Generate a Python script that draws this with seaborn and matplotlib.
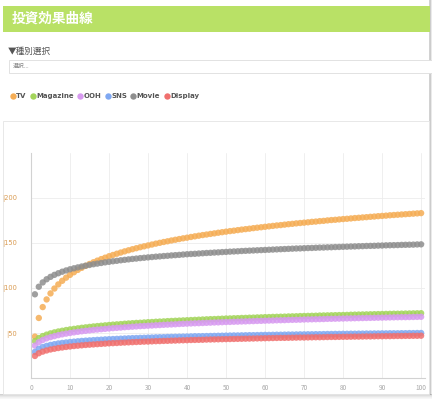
import matplotlib
matplotlib.use("Agg")
import matplotlib.pyplot as plt
from matplotlib.patches import Rectangle
from matplotlib.lines import Line2D
import pandas as pd
import seaborn as sns

# ---- data -------------------------------------------------------------
spend = list(range(1, 101))

tv = [
    46.0, 66.7, 78.8, 87.3, 94.0, 99.4, 104.0, 108.0, 111.5, 114.6,
    117.5, 120.1, 122.4, 124.6, 126.7, 128.6, 130.4, 132.1, 133.7, 135.3,
    136.7, 138.1, 139.4, 140.7, 141.9, 143.1, 144.2, 145.3, 146.3, 147.3,
    148.3, 149.3, 150.2, 151.1, 151.9, 152.8, 153.6, 154.4, 155.2, 155.9,
    156.7, 157.4, 158.1, 158.8, 159.4, 160.1, 160.7, 161.4, 162.0, 162.6,
    163.2, 163.7, 164.3, 164.9, 165.4, 165.9, 166.5, 167.0, 167.5, 168.0,
    168.5, 169.0, 169.5, 169.9, 170.4, 170.9, 171.3, 171.8, 172.2, 172.6,
    173.0, 173.5, 173.8, 174.3, 174.6, 175.1, 175.5, 175.8, 176.2, 176.6,
    176.9, 177.3, 177.7, 178.0, 178.4, 178.7, 179.1, 179.4, 179.8, 180.1,
    180.4, 180.8, 181.1, 181.4, 181.7, 182.0, 182.3, 182.6, 182.9, 183.2,
]
magazine = [
    41.0, 44.4, 46.6, 48.2, 49.6, 50.7, 51.7, 52.5, 53.3, 54.0,
    54.6, 55.2, 55.8, 56.3, 56.8, 57.3, 57.7, 58.1, 58.5, 58.9,
    59.3, 59.6, 59.9, 60.3, 60.6, 60.9, 61.2, 61.4, 61.7, 62.0,
    62.2, 62.5, 62.7, 62.9, 63.2, 63.4, 63.6, 63.8, 64.0, 64.2,
    64.4, 64.6, 64.8, 65.0, 65.2, 65.4, 65.5, 65.7, 65.9, 66.1,
    66.2, 66.4, 66.5, 66.7, 66.8, 67.0, 67.1, 67.3, 67.4, 67.6,
    67.7, 67.9, 68.0, 68.1, 68.2, 68.4, 68.5, 68.6, 68.8, 68.9,
    69.0, 69.1, 69.2, 69.4, 69.5, 69.6, 69.7, 69.8, 69.9, 70.0,
    70.1, 70.3, 70.4, 70.5, 70.6, 70.7, 70.8, 70.9, 71.0, 71.1,
    71.2, 71.3, 71.4, 71.4, 71.5, 71.6, 71.7, 71.8, 71.9, 72.0,
]
ooh = [
    36.0, 39.8, 42.2, 44.0, 45.4, 46.5, 47.6, 48.5, 49.3, 50.0,
    50.7, 51.3, 51.9, 52.4, 52.9, 53.4, 53.8, 54.2, 54.6, 55.0,
    55.4, 55.7, 56.0, 56.4, 56.7, 57.0, 57.3, 57.6, 57.8, 58.1,
    58.3, 58.6, 58.8, 59.1, 59.3, 59.5, 59.7, 60.0, 60.2, 60.4,
    60.6, 60.8, 60.9, 61.1, 61.3, 61.5, 61.7, 61.8, 62.0, 62.2,
    62.3, 62.5, 62.6, 62.8, 62.9, 63.1, 63.2, 63.4, 63.5, 63.7,
    63.8, 63.9, 64.1, 64.2, 64.3, 64.5, 64.6, 64.7, 64.8, 65.0,
    65.1, 65.2, 65.3, 65.4, 65.5, 65.7, 65.8, 65.9, 66.0, 66.1,
    66.2, 66.3, 66.4, 66.5, 66.6, 66.7, 66.8, 66.9, 67.0, 67.1,
    67.2, 67.3, 67.4, 67.5, 67.6, 67.6, 67.7, 67.8, 67.9, 68.0,
]
sns_media = [
    29.0, 32.4, 34.4, 35.7, 36.8, 37.6, 38.4, 39.0, 39.5, 40.0,
    40.4, 40.8, 41.2, 41.5, 41.8, 42.1, 42.4, 42.6, 42.9, 43.1,
    43.3, 43.5, 43.7, 43.9, 44.1, 44.3, 44.4, 44.6, 44.7, 44.9,
    45.0, 45.2, 45.3, 45.4, 45.6, 45.7, 45.8, 45.9, 46.0, 46.1,
    46.2, 46.4, 46.4, 46.5, 46.6, 46.7, 46.8, 46.9, 47.0, 47.1,
    47.2, 47.3, 47.3, 47.4, 47.5, 47.6, 47.6, 47.7, 47.8, 47.9,
    47.9, 48.0, 48.1, 48.1, 48.2, 48.3, 48.3, 48.4, 48.5, 48.5,
    48.6, 48.6, 48.7, 48.7, 48.8, 48.9, 48.9, 49.0, 49.0, 49.1,
    49.1, 49.2, 49.2, 49.3, 49.3, 49.4, 49.4, 49.5, 49.5, 49.6,
    49.6, 49.7, 49.7, 49.7, 49.8, 49.8, 49.9, 49.9, 50.0, 50.0,
]
movie = [
    93.0, 101.4, 106.2, 109.7, 112.4, 114.6, 116.4, 118.1, 119.5, 120.8,
    121.9, 122.9, 123.9, 124.8, 125.6, 126.4, 127.1, 127.8, 128.5, 129.1,
    129.7, 130.2, 130.8, 131.3, 131.8, 132.3, 132.7, 133.2, 133.6, 134.0,
    134.4, 134.8, 135.1, 135.5, 135.8, 136.2, 136.5, 136.8, 137.2, 137.5,
    137.8, 138.0, 138.3, 138.6, 138.9, 139.1, 139.4, 139.6, 139.9, 140.1,
    140.4, 140.6, 140.8, 141.1, 141.3, 141.5, 141.7, 141.9, 142.1, 142.3,
    142.5, 142.7, 142.9, 143.1, 143.3, 143.5, 143.7, 143.9, 144.0, 144.2,
    144.4, 144.5, 144.7, 144.9, 145.0, 145.2, 145.3, 145.5, 145.6, 145.8,
    145.9, 146.1, 146.2, 146.4, 146.5, 146.7, 146.8, 146.9, 147.1, 147.2,
    147.4, 147.5, 147.6, 147.7, 147.9, 148.0, 148.1, 148.2, 148.4, 148.5,
]
display = [
    24.5, 27.5, 29.3, 30.6, 31.7, 32.5, 33.3, 33.9, 34.5, 35.0,
    35.5, 35.9, 36.3, 36.7, 37.0, 37.3, 37.6, 37.9, 38.2, 38.5,
    38.7, 38.9, 39.2, 39.4, 39.6, 39.8, 40.0, 40.2, 40.4, 40.5,
    40.7, 40.9, 41.0, 41.2, 41.3, 41.5, 41.6, 41.8, 41.9, 42.0,
    42.2, 42.3, 42.4, 42.5, 42.7, 42.8, 42.9, 43.0, 43.1, 43.2,
    43.3, 43.4, 43.5, 43.6, 43.7, 43.8, 43.9, 44.0, 44.1, 44.2,
    44.3, 44.4, 44.5, 44.6, 44.6, 44.7, 44.8, 44.9, 45.0, 45.0,
    45.1, 45.2, 45.3, 45.3, 45.4, 45.5, 45.6, 45.6, 45.7, 45.8,
    45.8, 45.9, 46.0, 46.0, 46.1, 46.2, 46.2, 46.3, 46.4, 46.4,
    46.5, 46.5, 46.6, 46.7, 46.7, 46.8, 46.8, 46.9, 46.9, 47.0,
]

media = ["TV", "Magazine", "OOH", "SNS", "Movie", "Display"]
colors = ["#f5ad55", "#a3d45a", "#d79af0", "#7fa8f2", "#8e8e8e", "#f0706e"]
x_ticks = [0, 10, 20, 30, 40, 50, 60, 70, 80, 90, 100]
y_ticks = [50, 100, 150, 200]

title = "投資効果曲線"
filter_label = "▼種別選択"
placeholder = "選択..."

# ---- figure -----------------------------------------------------------
sns.set_theme(style="white")
plt.rcParams["font.family"] = ["Noto Sans CJK JP", "DejaVu Sans"]

W, H = 432, 400
fig = plt.figure(figsize=(W / 100, H / 100), dpi=100)
fig.patch.set_facecolor("white")


def box(x0, y0, x1, y1, **kw):
    """Rectangle in pixel units measured from the top-left corner."""
    fig.patches.append(Rectangle((x0 / W, 1 - y1 / H), (x1 - x0) / W, (y1 - y0) / H,
                                 transform=fig.transFigure, **kw))


# drop shadow of the page card
for i, a in enumerate([0.30, 0.22, 0.15, 0.09, 0.05]):
    box(0, 394 + i, W, 395 + i, facecolor="#6a6a6a", alpha=a, edgecolor="none", zorder=0)
    box(429 + i * 0.6, 0, 430 + i * 0.6, 395, facecolor="#6a6a6a", alpha=a,
        edgecolor="none", zorder=0)

# header band
box(3, 6, 430, 32, facecolor="#b9e166", edgecolor="none", zorder=1)
fig.text(12 / W, 1 - 19 / H, title, color="white", fontsize=9.8, fontweight="bold",
         va="center", ha="left")

# type selector
fig.text(8 / W, 1 - 51 / H, filter_label, color="#555555", fontsize=6.2,
         va="center", ha="left")
box(9, 60, 432, 73, facecolor="white", edgecolor="#dddddd", linewidth=0.6, zorder=1)
fig.text(13 / W, 1 - 66.5 / H, placeholder, color="#888888", fontsize=4.2,
         va="center", ha="left")

# chart panel
box(3, 121, 429, 394, facecolor="white", edgecolor="#e4e4e4", linewidth=0.6, zorder=1)

# ---- scatter ----------------------------------------------------------
series = [tv, magazine, ooh, sns_media, movie, display]
df = pd.concat(
    [pd.DataFrame({"spend": spend, "effect": vals, "media": name})
     for name, vals in zip(media, series)],
    ignore_index=True,
)

ax = fig.add_axes([31 / W, 22 / H, 394 / W, 225 / H], zorder=2)
ax.set_facecolor("none")
sns.scatterplot(data=df, x="spend", y="effect", hue="media", hue_order=media,
                palette=dict(zip(media, colors)), s=21, alpha=0.85,
                edgecolor="none", legend=False, ax=ax)

ax.set_xlim(0, 101)
ax.set_ylim(0, 250)
ax.set_xticks(x_ticks)
ax.set_yticks(y_ticks)
ax.set_xticklabels([str(t) for t in x_ticks], color="#a8a8a8", fontsize=4.6)
# value labels carry a small bar marker in front of the number
ax.set_yticklabels(["|" + str(t) for t in y_ticks], color="#d99a50", fontsize=4.8,
                   family="DejaVu Sans")
ax.tick_params(axis="both", length=0)
ax.tick_params(axis="x", pad=4)
ax.tick_params(axis="y", pad=10)
ax.set_xlabel("")
ax.set_ylabel("")
ax.grid(True, color="#ececec", linewidth=0.6)
ax.set_axisbelow(True)
for side in ("top", "right"):
    ax.spines[side].set_visible(False)
for side in ("left", "bottom"):
    ax.spines[side].set_color("#d2d2d2")
    ax.spines[side].set_linewidth(0.8)

# ---- legend row -------------------------------------------------------
handles = [Line2D([], [], marker="o", linestyle="none", markersize=4.6,
                  markerfacecolor=c, markeredgecolor="none", label=m)
           for m, c in zip(media, colors)]
fig.legend(handles=handles, loc="center left", bbox_to_anchor=(8 / W, 1 - 96 / H),
           ncol=6, frameon=False, handlelength=0.6,
           handletextpad=0.2, columnspacing=0.6, borderaxespad=0,
           prop={"family": "DejaVu Sans", "size": 5.0, "weight": "bold"},
           labelcolor="#555555")

fig.savefig("out.png", dpi=100)
